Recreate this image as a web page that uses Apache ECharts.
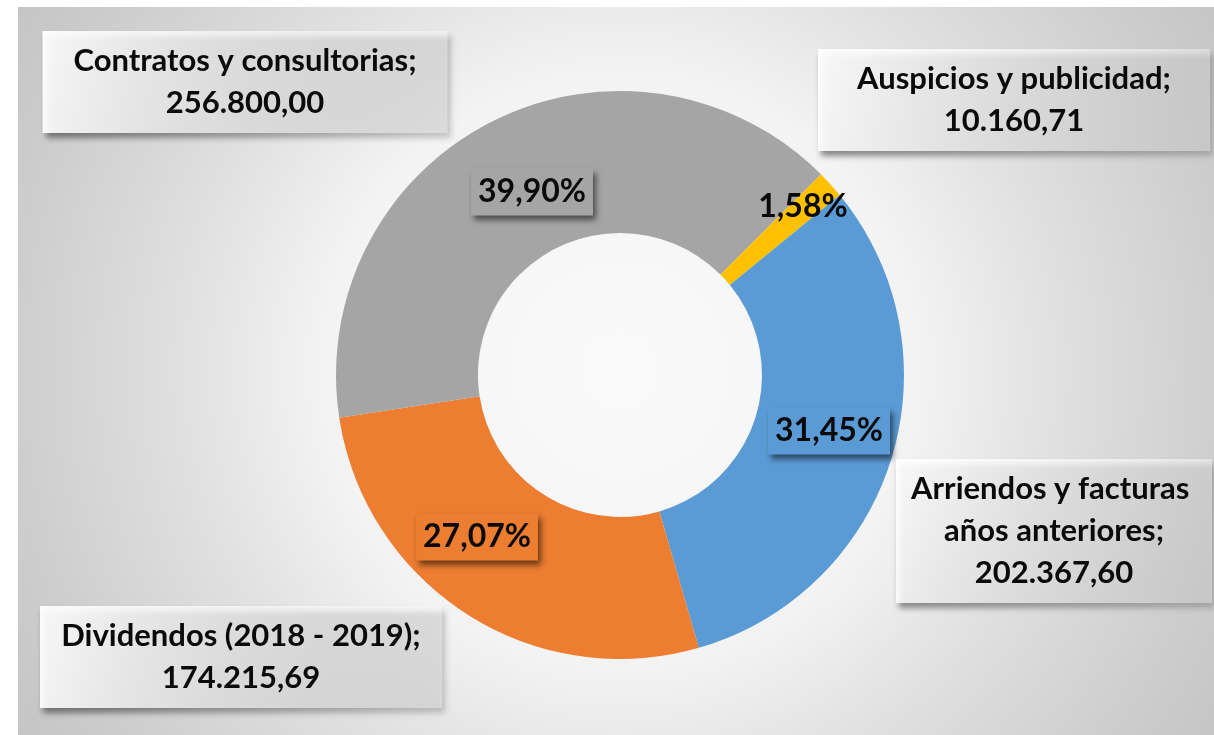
<!DOCTYPE html>
<html>
<head>
<meta charset="utf-8">
<style>
html, body { margin: 0; padding: 0; background: #fff; }
#main { width: 1214px; height: 735px; }
</style>
<script src="https://cdn.jsdelivr.net/npm/echarts@6/dist/echarts.min.js"></script>
</head>
<body>
<div id="main"></div>
<script>
var names = ['Auspicios y publicidad', 'Arriendos y facturas años anteriores', 'Dividendos (2018 - 2019)', 'Contratos y consultorias'];
var values = [10160.71, 202367.60, 174215.69, 256800.00];
var colors = ['#FFC000', '#5B9BD5', '#ED7D31', '#A5A5A5'];

// where the labels sit (centres)
var pctPos = [[803, 207], [829, 431], [477, 537], [532, 192]];
var namePos = [[1014, 100], [1054, 531], [241, 657], [245, 82]];
var nameWidth = [372, 296, 382, 385];

function fmtNum(v) {
  var p = v.toFixed(2).split('.');
  return p[0].replace(/\B(?=(\d{3})+(?!\d))/g, '.') + ',' + p[1];
}

var myChart = echarts.init(document.getElementById('main'));

var pctData = names.map(function (n, i) {
  var d = { name: n, value: values[i], itemStyle: { color: colors[i] }, label: { backgroundColor: colors[i] } };
  if (i === 0) {
    d.label = { backgroundColor: 'transparent', shadowColor: 'transparent' };
  }
  return d;
});
var nameData = names.map(function (n, i) {
  return { name: n, value: values[i], label: { width: nameWidth[i] } };
});

var boxFill = new echarts.graphic.LinearGradient(0, 0, 1, 1, [
  { offset: 0, color: 'rgba(255,255,255,0.95)' },
  { offset: 1, color: 'rgba(255,255,255,0.38)' }
]);

myChart.setOption({
  animation: false,
  graphic: [{
    type: 'rect',
    z: -10,
    silent: true,
    shape: { x: 18, y: 7, width: 1196, height: 728 },
    style: {
      fill: new echarts.graphic.RadialGradient(620, 370, 710, [
        { offset: 0, color: '#fafafa' },
        { offset: 0.42, color: '#f3f3f3' },
        { offset: 0.62, color: '#e0e0e0' },
        { offset: 0.85, color: '#cecece' },
        { offset: 1, color: '#c4c4c4' }
      ], true)
    }
  }],
  series: [
    {
      type: 'pie',
      center: [620, 375],
      radius: [142, 284],
      startAngle: 45,
      clockwise: true,
      avoidLabelOverlap: false,
      silent: true,
      itemStyle: { borderWidth: 0 },
      emphasis: { disabled: true },
      labelLine: { show: false },
      label: {
        show: true,
        position: 'inside',
        formatter: function (p) {
          return p.percent.toFixed(2).replace('.', ',') + '%';
        },
        fontFamily: 'Lato',
        fontWeight: 'bold',
        fontSize: 32,
        lineHeight: 37,
        color: '#0a0a0a',
        padding: [5, 7],
        shadowColor: 'rgba(0,0,0,0.55)',
        shadowBlur: 6,
        shadowOffsetX: 3,
        shadowOffsetY: 4
      },
      labelLayout: function (p) {
        var pos = pctPos[p.dataIndex];
        return { x: pos[0], y: pos[1], align: 'center', verticalAlign: 'middle' };
      },
      data: pctData
    },
    {
      type: 'pie',
      center: [620, 375],
      radius: [142, 284],
      startAngle: 45,
      clockwise: true,
      avoidLabelOverlap: false,
      silent: true,
      itemStyle: { color: 'rgba(0,0,0,0)', borderWidth: 0 },
      emphasis: { disabled: true },
      labelLine: { show: false },
      label: {
        show: true,
        position: 'outside',
        formatter: function (p) {
          return p.name + ';\n' + fmtNum(p.value);
        },
        overflow: 'break',
        align: 'center',
        fontFamily: 'Lato',
        fontWeight: 'bold',
        fontSize: 31,
        lineHeight: 42,
        color: '#0a0a0a',
        padding: [9, 10],
        backgroundColor: boxFill,
        shadowColor: 'rgba(0,0,0,0.5)',
        shadowBlur: 6,
        shadowOffsetX: 3,
        shadowOffsetY: 5
      },
      labelLayout: function (p) {
        var pos = namePos[p.dataIndex];
        return { x: pos[0], y: pos[1], align: 'center', verticalAlign: 'middle' };
      },
      data: nameData
    }
  ]
});
</script>
</body>
</html>
